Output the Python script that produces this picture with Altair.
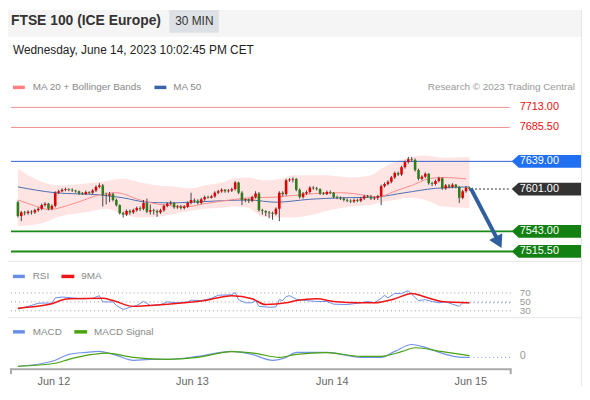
import altair as alt
import pandas as pd

FONT = "Liberation Sans"

# ---------------- data ----------------
first_open = 7583
closes = [7564, 7569, 7568, 7570, 7569, 7572, 7574, 7579, 7581, 7574,
          7578, 7596, 7598, 7600, 7601, 7600, 7599, 7598, 7595, 7594,
          7597, 7596, 7599, 7604, 7606, 7593, 7592, 7594, 7586, 7579,
          7568, 7566, 7571, 7569, 7572, 7575, 7574, 7582, 7570, 7572,
          7571, 7569, 7572, 7578, 7581, 7582, 7576, 7577, 7575, 7577,
          7582, 7586, 7585, 7582, 7587, 7590, 7589, 7591, 7596, 7598,
          7600, 7598, 7599, 7601, 7610, 7596, 7586, 7587, 7585, 7590,
          7595, 7572, 7571, 7569, 7568, 7567, 7574, 7596, 7594, 7613,
          7614, 7615, 7600, 7590, 7595, 7597, 7603, 7602, 7601, 7595,
          7594, 7597, 7596, 7590, 7589, 7588, 7586, 7585, 7584, 7586,
          7585, 7588, 7591, 7590, 7588, 7589, 7591, 7605, 7608, 7611,
          7617, 7623, 7621, 7631, 7638, 7642, 7641, 7627, 7615, 7618,
          7622, 7609, 7608, 7612, 7616, 7602, 7606, 7604, 7607, 7604,
          7589, 7598, 7603, 7601]
highs = [7585, 7571, 7571, 7572, 7572, 7574, 7576, 7581, 7583, 7582,
         7580, 7598, 7600, 7602, 7603, 7602, 7602, 7600, 7599, 7597,
         7599, 7598, 7601, 7606, 7609, 7608, 7596, 7597, 7596, 7588,
         7580, 7570, 7573, 7573, 7574, 7577, 7577, 7586, 7588, 7580,
         7574, 7573, 7574, 7580, 7583, 7585, 7583, 7579, 7579, 7579,
         7584, 7596, 7588, 7587, 7589, 7592, 7592, 7593, 7598, 7600,
         7602, 7601, 7601, 7603, 7612, 7611, 7598, 7588, 7588, 7592,
         7598, 7597, 7574, 7572, 7571, 7570, 7576, 7598, 7598, 7615,
         7616, 7617, 7616, 7602, 7597, 7599, 7605, 7605, 7604, 7602,
         7597, 7599, 7599, 7597, 7592, 7591, 7590, 7588, 7587, 7588,
         7588, 7590, 7593, 7593, 7593, 7591, 7593, 7607, 7610, 7613,
         7619, 7625, 7625, 7633, 7640, 7645, 7645, 7643, 7629, 7620,
         7624, 7623, 7611, 7614, 7618, 7617, 7608, 7608, 7609, 7608,
         7605, 7600, 7605, 7604]
lows = [7562, 7557, 7565, 7566, 7566, 7567, 7570, 7572, 7577, 7572,
        7572, 7576, 7594, 7597, 7598, 7598, 7597, 7596, 7593, 7593,
        7593, 7594, 7594, 7597, 7602, 7577, 7580, 7583, 7584, 7577,
        7566, 7562, 7564, 7566, 7567, 7570, 7571, 7572, 7568, 7566,
        7566, 7563, 7567, 7570, 7576, 7579, 7574, 7574, 7573, 7573,
        7575, 7580, 7582, 7580, 7580, 7585, 7588, 7588, 7589, 7594,
        7596, 7596, 7596, 7597, 7599, 7594, 7579, 7583, 7582, 7583,
        7588, 7570, 7566, 7564, 7561, 7559, 7565, 7557, 7591, 7592,
        7611, 7610, 7598, 7588, 7588, 7593, 7595, 7600, 7599, 7593,
        7593, 7593, 7594, 7588, 7587, 7586, 7584, 7583, 7582, 7582,
        7583, 7583, 7586, 7589, 7586, 7586, 7586, 7579, 7603, 7606,
        7609, 7615, 7619, 7619, 7629, 7636, 7639, 7625, 7613, 7613,
        7616, 7607, 7605, 7606, 7610, 7600, 7600, 7602, 7602, 7602,
        7582, 7587, 7596, 7599]

ma20_i = [0, 5, 9, 17, 24, 29, 36, 43, 50, 55, 64, 68, 76, 85, 95, 103, 106, 111, 116, 121, 125, 132]
ma20_v = [7586, 7578, 7573, 7582, 7593, 7596, 7586, 7579, 7577, 7581, 7587, 7589, 7590, 7594, 7596, 7592,
          7590, 7598, 7606, 7615, 7617, 7615]
ma50_i = [0, 11, 24, 31, 38, 45, 51, 60, 68, 76, 86, 95, 105, 114, 123, 133]
ma50_v = [7604, 7596, 7593, 7589, 7583, 7582, 7583, 7585, 7586, 7583, 7587, 7589, 7590, 7596, 7602, 7604]
bb_i = [0, 7, 12, 21, 26, 31, 36, 41, 47, 51, 55, 60, 64, 68, 72, 78, 81, 86, 90, 98, 104, 107, 111, 115,
        120, 125, 133]
bb_up = [7629, 7611, 7606, 7609, 7612, 7615, 7610, 7606, 7604, 7602, 7606, 7610, 7616, 7617, 7613, 7616,
         7620, 7620, 7620, 7617, 7620, 7629, 7638, 7644, 7647, 7644, 7645]
bb_lo = [7550, 7554, 7563, 7570, 7574, 7566, 7562, 7563, 7568, 7571, 7574, 7575, 7577, 7575, 7563, 7562,
         7562, 7565, 7570, 7577, 7579, 7583, 7586, 7589, 7586, 7577, 7575]

rsi_i = [0, 4, 6, 8, 10, 11, 13, 16, 19, 22, 24, 25, 28, 29, 31, 33, 35, 37, 39, 42, 44, 47, 50, 51, 54,
         57, 59, 63, 64, 65, 67, 69, 70, 71, 74, 76, 77, 78, 79, 80, 82, 85, 88, 91, 93, 97, 101, 103, 105,
         107, 108, 109, 111, 113, 115, 116, 118, 120, 122, 124, 126, 128, 130, 131, 133]
rsi_v = [34, 42, 47, 47.5, 47, 59, 61, 59, 57, 58, 64, 50, 50, 42, 33, 38, 42, 51, 42, 44, 50, 48, 50, 54, 53,
         58, 65, 66, 71, 55, 48, 48, 53, 40, 38, 39, 55, 53, 62, 64, 56, 53, 51, 51, 45, 44, 48, 51, 48,
         58, 65, 59, 69, 69, 75, 67, 53, 55, 51, 48, 50, 45, 40, 48, 48]
ma9_i = [0, 9, 15, 25, 28, 34, 39, 49, 55, 63, 69, 73, 79, 82, 88, 93, 101, 105, 111, 116, 120, 125, 133]
ma9_v = [36, 44, 57, 58, 53, 40, 42, 48, 53, 64, 57, 44, 48, 53, 57, 51, 48, 48, 57, 69, 61, 51, 48]

macd_i = [0, 6, 11, 15, 20, 24, 29, 34, 39, 44, 53, 63, 69, 75, 79, 82, 91, 101, 107, 111, 116, 120, 125, 131, 133]
macd_v = [-10, -8, -4, 2, 4, 5, 1, -4, -3, -3, 0, 5, 2, -4, -1, 4, 4, -1, -1, 5, 12, 9, 3, -1, -1]
sig_i = [0, 11, 15, 22, 26, 34, 44, 53, 63, 70, 77, 82, 91, 101, 107, 113, 117, 125, 133]
sig_v = [-10, -7, -3, 2, 3.3, -1, -3, -1, 4.7, 3, -1, 2, 3.7, 0, 0, 4.7, 8.7, 4.7, 0.7]

level_values = [7713.0, 7685.5, 7639.0, 7601.0, 7543.0, 7515.5]
level_kinds = ["res", "res", "pivot", "last", "sup", "sup"]
rsi_levels = [70, 50, 30]
day_pos = [10.6, 51.4, 92.6, 133.4]
day_labels = ["Jun 12", "Jun 13", "Jun 14", "Jun 15"]
arrow_i = [133.4, 140.9]
arrow_p = [7602, 7535]
arrow_head_i = [141.6]
arrow_head_p = [7528]

# ---------------- frames ----------------
opens = [first_open] + closes[:-1]
candles = pd.DataFrame({"i": list(range(len(closes))), "open": opens, "close": closes,
                        "high": highs, "low": lows})
candles["dir"] = ["up" if c >= o else "down" for o, c in zip(opens, closes)]

ma20 = pd.DataFrame({"i": ma20_i, "v": ma20_v})
ma50 = pd.DataFrame({"i": ma50_i, "v": ma50_v})
bb = pd.DataFrame({"i": bb_i, "up": bb_up, "lo": bb_lo})
rsi = pd.DataFrame({"i": rsi_i, "v": rsi_v})
ma9 = pd.DataFrame({"i": ma9_i, "v": ma9_v})
macd = pd.DataFrame({"i": macd_i, "v": macd_v})
sig = pd.DataFrame({"i": sig_i, "v": sig_v})
levels = pd.DataFrame({"v": level_values, "kind": level_kinds,
                       "label": [f"{v:.2f}" for v in level_values]})
rlev = pd.DataFrame({"v": rsi_levels, "label": [str(v) for v in rsi_levels]})
days = pd.DataFrame({"i": day_pos, "label": day_labels})
arrow = pd.DataFrame({"i": arrow_i, "v": arrow_p})
arrow_head = pd.DataFrame({"i": arrow_head_i, "v": arrow_head_p})
last_rsi = pd.DataFrame({"i": [rsi_i[-1]], "v": [rsi_v[-1]]})
last_macd = pd.DataFrame({"i": [macd_i[-1]], "v": [macd_v[-1]]})
zero = pd.DataFrame({"v": [0], "label": ["0"]})
one = pd.DataFrame({"a": [0]})

# ---------------- scales ----------------
XS = alt.Scale(domain=[0, 144], range=[5, 509], nice=False, zero=False)
PS = alt.Scale(domain=[7500, 7720], range=[255.4, 93.3], nice=False, zero=False)
RS = alt.Scale(domain=[0, 100], range=[317.5, 272.5], nice=False, zero=False)
MS = alt.Scale(domain=[-20, 20], range=[370, 330], nice=False, zero=False)

X = alt.X("i:Q", scale=XS, axis=None)
def PY(f): return alt.Y(f, scale=PS, axis=None)
def RY(f): return alt.Y(f, scale=RS, axis=None)
def MY(f): return alt.Y(f, scale=MS, axis=None)


def rect(x, x2, y, y2, color):
    return alt.Chart(one).mark_rect(color=color).encode(
        x=alt.value(x), x2=alt.value(x2), y=alt.value(y), y2=alt.value(y2))


def txt(s, x, y, size=10, color="#888", weight="normal", align="left"):
    return alt.Chart(one).mark_text(text=s, font=FONT, fontSize=size, color=color,
                                    fontWeight=weight, align=align, baseline="middle").encode(
        x=alt.value(x), y=alt.value(y))


def hrule(x, x2, y, color, w=1):
    return alt.Chart(one).mark_rule(color=color, strokeWidth=w).encode(
        x=alt.value(x), x2=alt.value(x2), y=alt.value(y))


layers = []
# header & frame
layers.append(rect(0, 580, 0, 27, "#f5f5f5"))
layers.append(rect(163, 213, 0, 23, "#dde0e4"))
layers.append(txt("FTSE 100 (ICE Europe)", 3, 11, 14, "#333", "bold"))
layers.append(txt("30 MIN", 169, 11, 12, "#333"))
layers.append(txt("Wednesday, June 14, 2023 10:02:45 PM CET", 5, 40, 12, "#222"))
layers.append(hrule(0, 580, 254, "#e6e6e6"))
layers.append(hrule(0, 580, 311, "#e6e6e6"))
layers.append(alt.Chart(one).mark_rule(color="#e6e6e6").encode(
    x=alt.value(579.5), y=alt.value(0), y2=alt.value(380)))

# legends
layers.append(rect(5, 17, 76.5, 80, "#ff8080"))
layers.append(txt("MA 20 + Bollinger Bands", 25, 78))
layers.append(rect(148, 160, 76.5, 80, "#3a64a8"))
layers.append(txt("MA 50", 167, 78))
layers.append(txt("Research © 2023 Trading Central", 573, 78, 10, "#999", align="right"))
layers.append(rect(5, 17, 267.5, 271, "#6a8ee8"))
layers.append(txt("RSI", 25, 269))
layers.append(rect(54, 67, 267.5, 271, "#f01515"))
layers.append(txt("9MA", 74, 269))
layers.append(rect(5, 17, 323.5, 327, "#6a8ee8"))
layers.append(txt("MACD", 25, 325))
layers.append(rect(67, 80, 323.5, 327, "#4aa310"))
layers.append(txt("MACD Signal", 87, 325))

# Bollinger + MAs
layers.append(alt.Chart(bb).mark_area(color="#ffe4e4", interpolate="monotone").encode(
    x=X, y=PY("lo:Q"), y2="up:Q"))
layers.append(alt.Chart(ma50).mark_line(color="#4a6fb0", strokeWidth=1, interpolate="monotone").encode(
    x=X, y=PY("v:Q")))
layers.append(alt.Chart(ma20).mark_line(color="#ff8a8a", strokeWidth=1, interpolate="monotone").encode(
    x=X, y=PY("v:Q")))

# levels
lv = alt.Chart(levels)
layers.append(lv.transform_filter("datum.kind == 'res'").mark_rule(color="#f29090", strokeWidth=1).encode(
    x=alt.value(3), x2=alt.value(507), y=PY("v:Q")))
layers.append(lv.transform_filter("datum.kind == 'pivot'").mark_rule(color="#2f5fd0", strokeWidth=1).encode(
    x=alt.value(3), x2=alt.value(510), y=PY("v:Q")))
layers.append(lv.transform_filter("datum.kind == 'sup'").mark_rule(color="#1a8a1a", strokeWidth=2).encode(
    x=alt.value(3), x2=alt.value(510), y=PY("v:Q")))
layers.append(lv.transform_filter("datum.kind == 'last'").mark_rule(
    color="#777", strokeWidth=1.5, strokeDash=[2, 2]).encode(
    x=alt.value(472), x2=alt.value(508), y=PY("v:Q")))

# candles
cb = alt.Chart(candles)
layers.append(cb.mark_rule(color="#444", strokeWidth=1).encode(x=X, y=PY("low:Q"), y2="high:Q"))
layers.append(cb.mark_bar(size=2.6).encode(
    x=X, y=PY("open:Q"), y2="close:Q",
    color=alt.Color("dir:N", scale=alt.Scale(domain=["up", "down"], range=["#e00000", "#2e7d1a"]),
                    legend=None)))

# arrow
layers.append(alt.Chart(arrow).mark_line(color="#2f5f9f", strokeWidth=4).encode(x=X, y=PY("v:Q")))
layers.append(alt.Chart(arrow_head).mark_point(shape="triangle-down", angle=333, size=220, filled=True,
                                               opacity=1, color="#2f5f9f").encode(x=X, y=PY("v:Q")))

# badges
BADGE = "M-1,0L-0.8,-0.186L1,-0.186L1,0.186L-0.8,0.186Z"
layers.append(lv.transform_filter("datum.kind != 'res'").mark_point(
    shape=BADGE, size=4900, filled=True, opacity=1, strokeWidth=0).encode(
    x=alt.value(544), y=PY("v:Q"),
    color=alt.Color("kind:N", scale=alt.Scale(domain=["pivot", "last", "sup"],
                                              range=["#1f6ff0", "#333333", "#128012"]), legend=None)))
layers.append(lv.transform_filter("datum.kind != 'res'").mark_text(
    font=FONT, fontSize=11, color="white", align="left", baseline="middle").encode(
    x=alt.value(517), y=PY("v:Q"), text="label:N"))
layers.append(lv.transform_filter("datum.kind == 'res'").mark_text(
    font=FONT, fontSize=11, color="#e81010", align="left", baseline="middle").encode(
    x=alt.value(517), y=PY("v:Q"), text="label:N"))

# RSI panel
layers.append(alt.Chart(rlev).mark_rule(color="#999", strokeDash=[1, 3]).encode(
    x=alt.value(3), x2=alt.value(508), y=RY("v:Q")))
layers.append(alt.Chart(rlev).mark_text(font=FONT, fontSize=10, color="#999", align="left",
                                        baseline="middle").encode(x=alt.value(517), y=RY("v:Q"), text="label:N"))
layers.append(alt.Chart(rsi).mark_line(color="#6a8ee8", strokeWidth=1).encode(x=X, y=RY("v:Q")))
layers.append(alt.Chart(ma9).mark_line(color="#f01515", strokeWidth=1.5, interpolate="monotone").encode(
    x=X, y=RY("v:Q")))
layers.append(alt.Chart(last_rsi).mark_rule(color="#6a8ee8", strokeDash=[1, 3]).encode(
    x=X, x2=alt.value(508), y=RY("v:Q")))

# MACD panel
layers.append(alt.Chart(macd).mark_line(color="#7392ea", strokeWidth=1.2, interpolate="monotone").encode(
    x=X, y=MY("v:Q")))
layers.append(alt.Chart(sig).mark_line(color="#4aa310", strokeWidth=1.2, interpolate="monotone").encode(
    x=X, y=MY("v:Q")))
layers.append(alt.Chart(last_macd).mark_rule(color="#7392ea", strokeDash=[1, 3]).encode(
    x=X, x2=alt.value(508), y=MY("v:Q")))
layers.append(alt.Chart(zero).mark_text(font=FONT, fontSize=11, color="#999", align="left",
                                        baseline="middle").encode(x=alt.value(517), y=MY("v:Q"), text="label:N"))

# x axis
layers.append(hrule(3, 508, 363, "#aaa", 2))
layers.append(alt.Chart(one).mark_rule(color="#aaa", strokeWidth=2).encode(
    x=alt.value(3), y=alt.value(362), y2=alt.value(368)))
layers.append(alt.Chart(one).mark_rule(color="#aaa", strokeWidth=2).encode(
    x=alt.value(508), y=alt.value(362), y2=alt.value(368)))
layers.append(alt.Chart(days).mark_text(font=FONT, fontSize=11, color="#666", baseline="middle").encode(
    x=X, y=alt.value(376), text="label:N"))

chart = alt.layer(*layers).resolve_scale(y="independent", color="independent").properties(
    width=580, height=380, padding=0, autosize="none", background="white"
).configure_view(stroke=None)

chart.save("out.html", embed_options={"renderer": "svg", "actions": False})
